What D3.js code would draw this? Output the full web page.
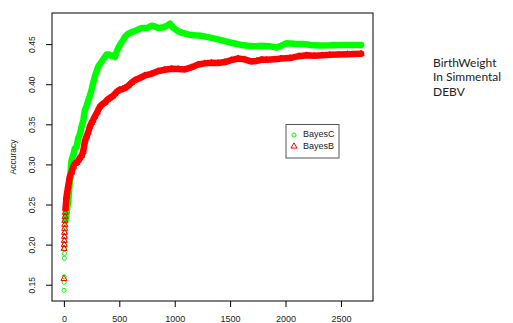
<!DOCTYPE html>
<html>
<head>
<meta charset="utf-8">
<script src="https://cdn.jsdelivr.net/npm/d3@7"></script>
<style>
  html, body { margin: 0; padding: 0; background: #fff; }
  svg { display: block; }
  .tick-label { font-family: "Liberation Sans", Arial, sans-serif; fill: #222; }
  .note { font-family: Lato, "Open Sans", sans-serif; font-size: 12px; fill: #222; }
</style>
</head>
<body>
<div id="chart"></div>
<script>
// ─── Data ─────────────────────────────────────────────────────────────────────
const iterC = [1, 2, 3, 4, 5, 6, 7, 8, 9, 10, 12, 14,
  15, 25, 40, 54, 69, 85, 99, 115, 130, 145, 160, 175, 190, 205, 219, 235, 250, 265,
  280, 295, 310, 325, 340, 360, 385, 410, 430, 445, 460, 475, 490, 510, 535, 551,
  580, 611, 650, 701, 750, 792, 820, 852, 900, 930, 957, 990, 1032, 1070, 1122,
  1180, 1242, 1290, 1332, 1390, 1453, 1500, 1543, 1600, 1663, 1720, 1784, 1850,
  1919, 1960, 2009, 2080, 2159, 2230, 2310, 2400, 2491, 2580, 2682];
const accC = [0.143, 0.153, 0.160, 0.183, 0.189, 0.195, 0.200, 0.205, 0.210, 0.215, 0.222, 0.228,
  0.230, 0.240, 0.255, 0.280, 0.305, 0.312, 0.320, 0.322, 0.333, 0.338, 0.3475, 0.355, 0.368, 0.373, 0.379, 0.386, 0.393, 0.402,
  0.410, 0.416, 0.422, 0.425, 0.428, 0.432, 0.437, 0.437, 0.435, 0.436, 0.434, 0.440, 0.445, 0.450, 0.455, 0.459,
  0.463, 0.465, 0.467, 0.470, 0.470, 0.473, 0.472, 0.470, 0.471, 0.473, 0.4755, 0.470, 0.466, 0.464, 0.462,
  0.461, 0.4603, 0.459, 0.4578, 0.456, 0.4537, 0.452, 0.4508, 0.449, 0.448, 0.4475, 0.448, 0.4475,
  0.4458, 0.448, 0.451, 0.4505, 0.4503, 0.449, 0.4483, 0.4485, 0.449, 0.449, 0.449];

const iterB = [1, 2, 3, 4, 5, 6, 7, 8, 9, 10, 12,
  15, 24, 39, 54, 69, 85, 99, 115, 130, 144, 160, 174, 190, 205, 219, 235, 250, 262,
  280, 300, 325, 345, 370, 395, 415, 440, 460, 480, 505, 530, 551, 580, 611, 641,
  690, 731, 790, 852, 910, 972, 1030, 1092, 1150, 1212, 1270, 1332, 1390, 1453,
  1510, 1573, 1630, 1694, 1740, 1784, 1829, 1900, 1960, 2040, 2120, 2190, 2260,
  2330, 2400, 2480, 2560, 2682];
const accB = [0.1575, 0.195, 0.200, 0.205, 0.210, 0.215, 0.220, 0.225, 0.230, 0.235, 0.240,
  0.245, 0.260, 0.273, 0.285, 0.290, 0.297, 0.301, 0.302, 0.305, 0.308, 0.311, 0.316, 0.3288, 0.335, 0.340, 0.3475, 0.352, 0.355,
  0.360, 0.365, 0.372, 0.375, 0.377, 0.381, 0.3828, 0.385, 0.388, 0.391, 0.3931, 0.394, 0.3952, 0.398, 0.402, 0.405,
  0.408, 0.411, 0.413, 0.4164, 0.418, 0.4193, 0.419, 0.4184, 0.421, 0.4246, 0.426, 0.4267, 0.4265, 0.4276,
  0.430, 0.4321, 0.431, 0.4283, 0.429, 0.4308, 0.4305, 0.431, 0.432, 0.4326, 0.435, 0.436, 0.4355,
  0.436, 0.4367, 0.437, 0.4375, 0.438];

const xTicks = [0, 500, 1000, 1500, 2000, 2500];
const yTicks = [0.15, 0.20, 0.25, 0.30, 0.35, 0.40, 0.45];
const seriesNames = ["BayesC", "BayesB"];
const noteLines = ["BirthWeight", "In Simmental", "DEBV"];
const bandStart = 15; // scattered first iterations, band after this

// ─── Chart ────────────────────────────────────────────────────────────────────
const W = 513, H = 323;
const box = { left: 52, top: 13, right: 373, bottom: 301 };
const green = "#00ff00", red = "#ff0000";

const pad = (lo, hi) => { const d = (hi - lo) * 0.04; return [lo - d, hi + d]; };
const allIter = iterC.concat(iterB), allAcc = accC.concat(accB);

const x = d3.scaleLinear().domain(pad(0, d3.max(allIter))).range([box.left, box.right]);
const y = d3.scaleLinear().domain(pad(d3.min(allAcc), d3.max(allAcc))).range([box.bottom, box.top]);

const svg = d3.select("#chart").append("svg").attr("width", W).attr("height", H);

const toPts = (it, ac) => it.map((v, i) => ({ iter: v, acc: ac[i] }));
const ptsC = toPts(iterC, accC), ptsB = toPts(iterB, accB);

const line = d3.line().x((d) => x(d.iter)).y((d) => y(d.acc)).curve(d3.curveLinear);

function drawSeries(pts, color, shape) {
  svg.append("path").datum(pts.filter((d) => d.iter >= bandStart))
    .attr("fill", "none").attr("stroke", color).attr("stroke-width", 6.5)
    .attr("stroke-linejoin", "round").attr("stroke-linecap", "round")
    .attr("d", line);
  const sym = d3.symbol().type(shape).size(shape === d3.symbolTriangle ? 16 : 13);
  svg.append("g").selectAll("path").data(pts).join("path")
    .attr("transform", (d) => `translate(${x(d.iter)},${y(d.acc)})`)
    .attr("d", sym).attr("fill", "none").attr("stroke", color).attr("stroke-width", 1);
}

drawSeries(ptsC, green, d3.symbolCircle);
drawSeries(ptsB, red, d3.symbolTriangle);

// box
svg.append("rect").attr("x", box.left).attr("y", box.top)
  .attr("width", box.right - box.left).attr("height", box.bottom - box.top)
  .attr("fill", "none").attr("stroke", "#000").attr("stroke-width", 1);

// x axis
const xAxis = svg.append("g").attr("transform", `translate(0,${box.bottom})`)
  .call(d3.axisBottom(x).tickValues(xTicks).tickSize(6).tickPadding(9).tickFormat(d3.format("d")));
xAxis.select(".domain").remove();
xAxis.selectAll("text").attr("class", "tick-label").attr("font-size", 9);

// y axis
const yAxis = svg.append("g").attr("transform", `translate(${box.left},0)`)
  .call(d3.axisLeft(y).tickValues(yTicks).tickSize(6).tickFormat(d3.format(".2f")));
yAxis.select(".domain").remove();
yAxis.selectAll("text").attr("class", "tick-label").attr("font-size", 8.5)
  .attr("x", 0).attr("dy", 0)
  .attr("transform", "translate(-19,0) rotate(-90)")
  .attr("text-anchor", "middle").attr("dominant-baseline", "middle");

svg.append("text").attr("class", "tick-label").attr("font-size", 8.5)
  .attr("transform", `translate(14,${(box.top + box.bottom) / 2}) rotate(-90)`)
  .attr("text-anchor", "middle").attr("dominant-baseline", "middle").text("Accuracy");

// legend
const lg = svg.append("g").attr("transform", "translate(286,124.5)");
lg.append("rect").attr("width", 53).attr("height", 33.5)
  .attr("fill", "#fff").attr("stroke", "#555").attr("stroke-width", 1);
const shapes = [d3.symbolCircle, d3.symbolTriangle], colors = [green, red];
seriesNames.forEach((name, i) => {
  const yy = 10.5 + i * 11.3;
  lg.append("path").attr("transform", `translate(8,${yy})`)
    .attr("d", d3.symbol().type(shapes[i]).size(i ? 16 : 13))
    .attr("fill", "none").attr("stroke", colors[i]).attr("stroke-width", 1);
  lg.append("text").attr("class", "tick-label").attr("font-size", 9)
    .attr("x", 17).attr("y", yy).attr("dominant-baseline", "middle").text(name);
});

// side note
svg.append("g").selectAll("text").data(noteLines).join("text")
  .attr("class", "note").attr("x", 433).attr("y", (d, i) => 66.5 + i * 14.6).text((d) => d);
</script>
</body>
</html>
